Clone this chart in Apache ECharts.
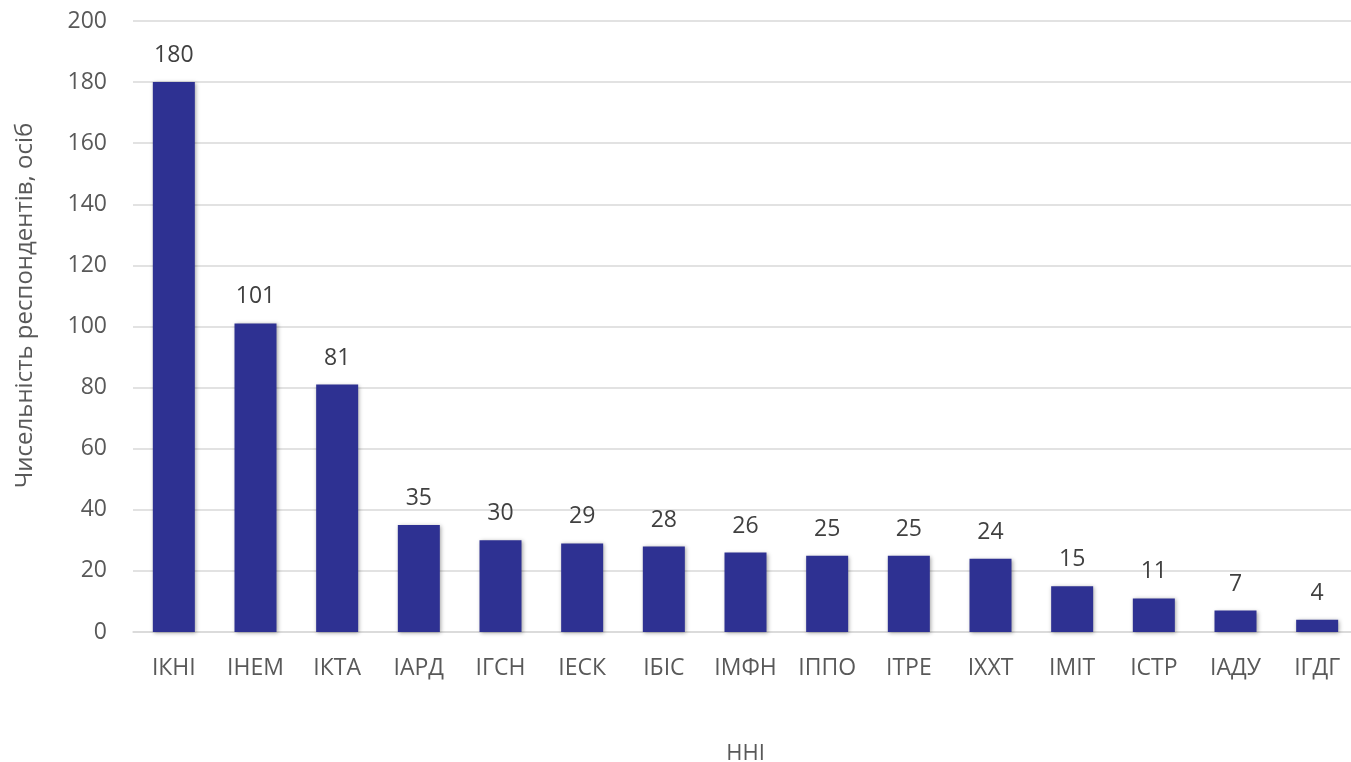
<!DOCTYPE html>
<html>
<head>
<meta charset="utf-8">
<script src="https://cdn.jsdelivr.net/npm/echarts@6/dist/echarts.min.js"></script>
<style>
  html, body { margin: 0; padding: 0; background: #fff; }
  #chart { width: 1351px; height: 762px; }
</style>
</head>
<body>
<div id="chart"></div>
<script>
// categories (ННІ) and values
var categories = ['ІКНІ', 'ІНЕМ', 'ІКТА', 'ІАРД', 'ІГСН', 'ІЕСК', 'ІБІС', 'ІМФН', 'ІППО', 'ІТРЕ', 'ІХХТ', 'ІМІТ', 'ІСТР', 'ІАДУ', 'ІГДГ'];
var respondents = [180, 101, 81, 35, 30, 29, 28, 26, 25, 25, 24, 15, 11, 7, 4];

var yMin = 0, yMax = 200, yStep = 20;

var myChart = echarts.init(document.getElementById('chart'));
var option = {
    animation: false,
    textStyle: { fontFamily: 'Open Sans, Noto Sans, sans-serif' },
    grid: { left: 133, top: 21, width: 1225, height: 611, outerBoundsMode: 'none' },
    xAxis: {
        type: 'category',
        data: categories,
        name: 'ННІ',
        nameLocation: 'middle',
        nameGap: 111,
        nameTextStyle: { fontSize: 22, color: '#595959' },
        axisLine: { lineStyle: { color: '#d9d9d9', width: 1.5 } },
        axisTick: { show: false },
        axisLabel: { fontSize: 23, color: '#595959', margin: 25 }
    },
    yAxis: {
        type: 'value',
        min: yMin,
        max: yMax,
        interval: yStep,
        name: 'Чисельність респондентів, осіб',
        nameLocation: 'middle',
        nameGap: 96,
        nameTextStyle: { fontSize: 24, color: '#595959', padding: [0, 0, 0, 42] },
        axisLine: { show: false },
        axisTick: { show: false },
        axisLabel: { fontSize: 23, color: '#595959', margin: 26 },
        splitLine: { lineStyle: { color: '#d9d9d9', width: 1.5 } }
    },
    series: [{
        type: 'bar',
        data: respondents,
        barWidth: 42,
        itemStyle: {
            color: '#2e3192',
            shadowColor: 'rgba(0,0,0,0.35)',
            shadowBlur: 4,
            shadowOffsetX: 1,
            shadowOffsetY: 1
        },
        label: {
            show: true,
            position: 'top',
            distance: 15,
            fontSize: 23,
            color: '#404040'
        }
    }]
};
myChart.setOption(option);
</script>
</body>
</html>
